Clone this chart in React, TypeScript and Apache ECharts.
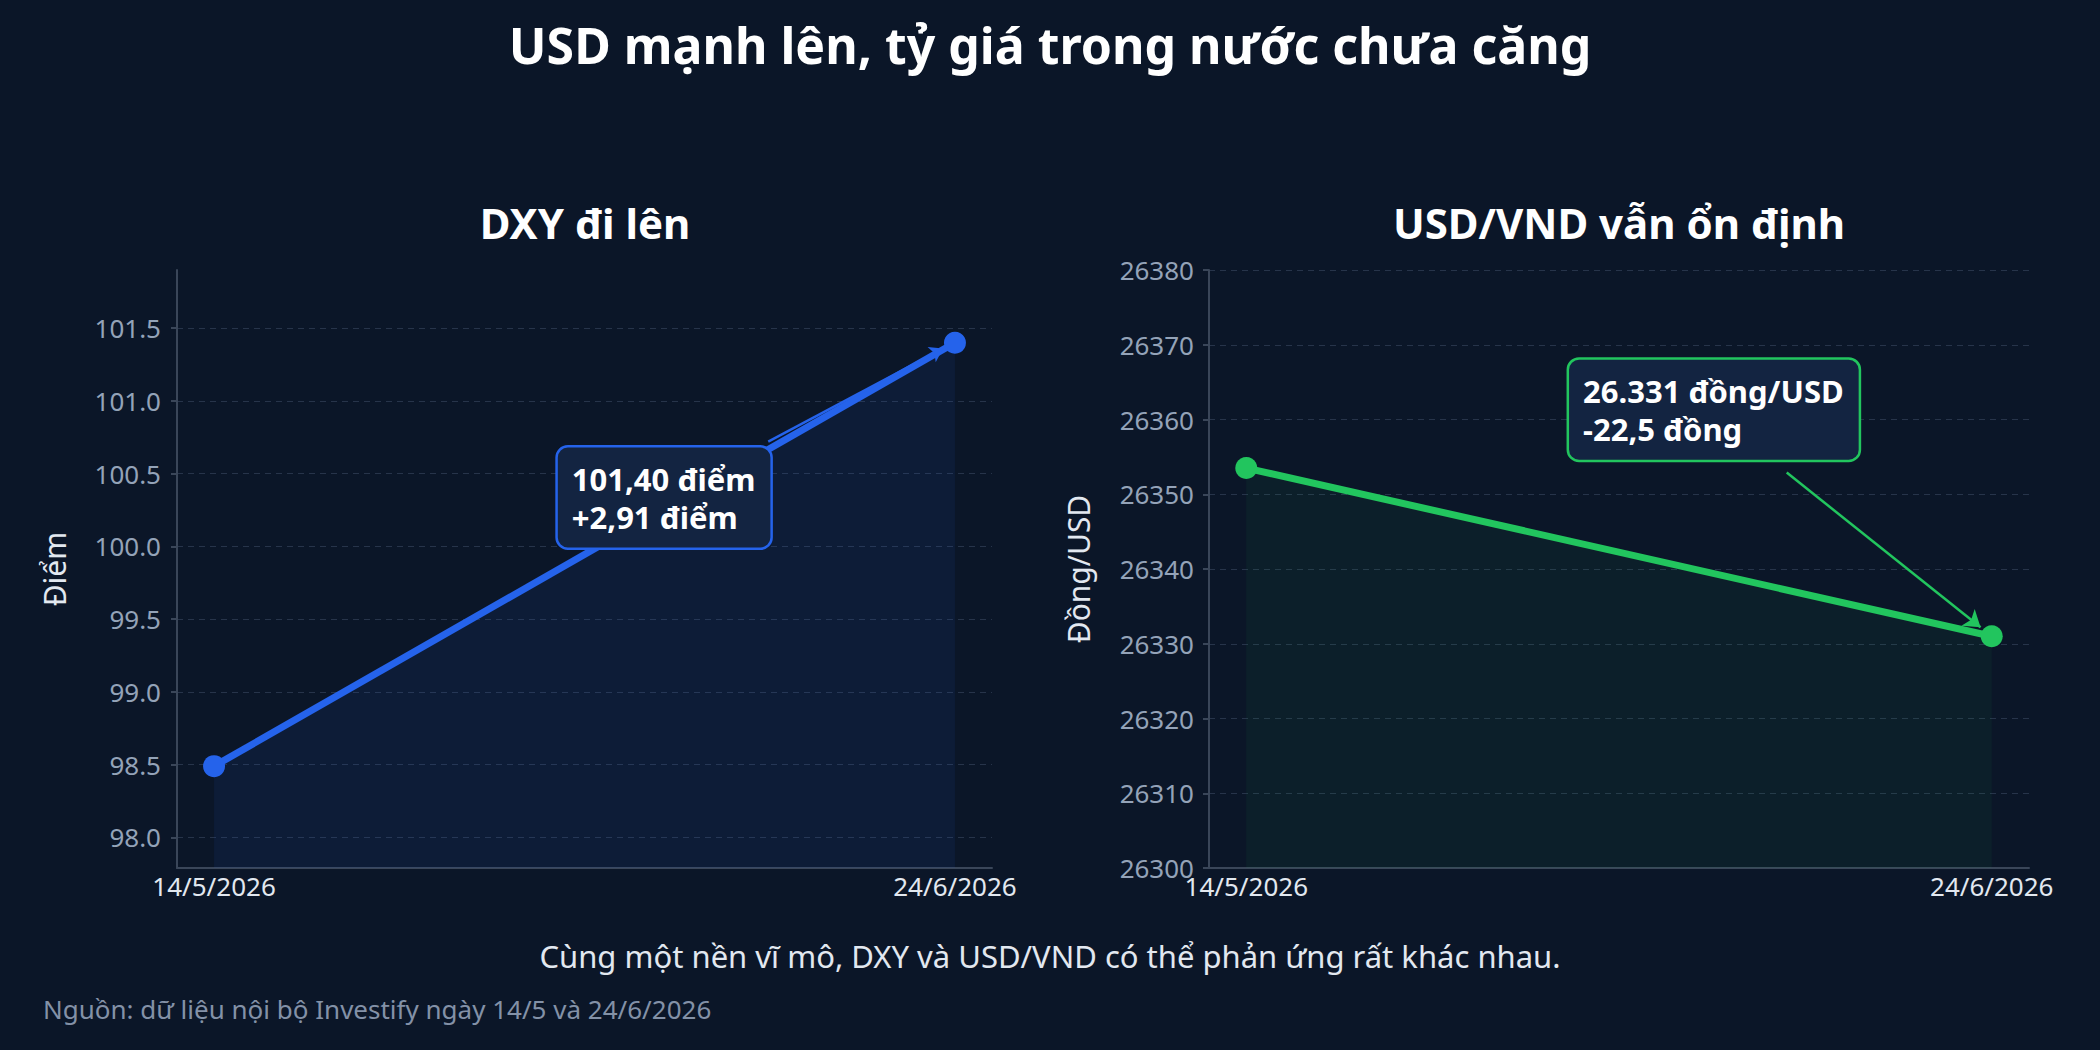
import { useEffect, useRef } from 'react';
import * as echarts from 'echarts';

// dates shown under each point
const dates = ['14/5/2026', '24/6/2026'];
const dxyValues = [98.49, 101.4];
const usdVndValues = [26353.5, 26331];
const dxyTicks = [98.0, 98.5, 99.0, 99.5, 100.0, 100.5, 101.0, 101.5];

const dxyNote = ['101,40 điểm', '+2,91 điểm'];
const usdNote = ['26.331 đồng/USD', '-22,5 đồng'];

const FONT = '"Noto Sans", sans-serif';
const BG = '#0b1628';
const BLUE = '#2563eb';
const GREEN = '#22c55e';
const AXIS = '#3a4659';
const GRID = '#27344a';

function xAxisFor(gridIndex: number): echarts.EChartsOption['xAxis'] {
  return {
    type: 'value',
    gridIndex,
    min: -0.05,
    max: 1.05,
    axisLine: { show: true, onZero: false, lineStyle: { color: AXIS, width: 2 } },
    axisTick: { show: false },
    splitLine: { show: false },
    axisLabel: {
      customValues: [0, 1],
      formatter: (v: number) => dates[Math.round(v)] ?? '',
      color: '#e2e8f0',
      fontSize: 26,
      fontFamily: FONT,
      margin: 5,
    },
  };
}

export default function App() {
  const chartRef = useRef<HTMLDivElement>(null);

  useEffect(() => {
    document.body.style.margin = '0';
    document.body.style.background = BG;
    if (!chartRef.current) return;
    const chart = echarts.init(chartRef.current, null, { renderer: 'svg' });

    const titleText = (text: string, x: number, y: number, size: number, weight: string, color: string, align = 'center') => ({
      type: 'text',
      x,
      y,
      silent: true,
      style: {
        text,
        fill: color,
        fontSize: size,
        fontWeight: weight,
        fontFamily: FONT,
        align,
        verticalAlign: 'middle',
      },
    });

    const noteLabel = (lines: string[], border: string) => ({
      show: true,
      position: [0, 0],
      align: 'left',
      verticalAlign: 'top',
      formatter: lines.join('\n'),
      color: '#ffffff',
      fontSize: 31,
      fontWeight: 'bold',
      fontFamily: FONT,
      lineHeight: 38,
      backgroundColor: '#132441',
      borderColor: border,
      borderWidth: 2.5,
      borderRadius: 10,
      padding: [12, 15, 12, 14],
    });

    const yName = { color: '#e2e8f0', fontSize: 30, fontFamily: FONT };
    const yLabel = { color: '#94a3b8', fontSize: 26, fontFamily: FONT };

    const option: echarts.EChartsOption = {
      animation: false,
      backgroundColor: BG,
      grid: [
        { left: 177, top: 270, width: 815, height: 598, containLabel: false },
        { left: 1209, top: 270, width: 820, height: 598, containLabel: false },
      ],
      xAxis: [xAxisFor(0), xAxisFor(1)] as any,
      yAxis: [
        {
          type: 'value',
          gridIndex: 0,
          min: 97.79,
          max: 101.9,
          name: 'Điểm',
          nameLocation: 'middle',
          nameGap: 108,
          nameTextStyle: yName,
          axisLine: { show: true, onZero: false, lineStyle: { color: AXIS, width: 2 } },
          axisTick: { show: true, length: 6, customValues: dxyTicks, lineStyle: { color: AXIS, width: 2 } },
          axisLabel: {
            ...yLabel,
            customValues: dxyTicks,
            formatter: (v: number) => v.toFixed(1),
            margin: 16,
          },
          splitLine: { show: true, lineStyle: { color: GRID, type: [6, 5], width: 1.2 } },
        },
        {
          type: 'value',
          gridIndex: 1,
          min: 26300,
          max: 26380,
          interval: 10,
          name: 'Đồng/USD',
          nameLocation: 'middle',
          nameGap: 116,
          nameTextStyle: yName,
          axisLine: { show: true, onZero: false, lineStyle: { color: AXIS, width: 2 } },
          axisTick: { show: true, length: 6, lineStyle: { color: AXIS, width: 2 } },
          axisLabel: {
            ...yLabel,
            formatter: (v: number) => String(v),
            margin: 15,
          },
          splitLine: { show: true, lineStyle: { color: GRID, type: [6, 5], width: 1.2 } },
        },
      ],
      series: [
        {
          type: 'line',
          xAxisIndex: 0,
          yAxisIndex: 0,
          data: dxyValues.map((v, i) => [i, v]),
          symbol: 'circle',
          symbolSize: 22,
          lineStyle: { color: BLUE, width: 7 },
          itemStyle: { color: BLUE },
          areaStyle: { color: 'rgba(37, 99, 235, 0.12)' },
          markLine: {
            silent: true,
            symbol: ['none', 'arrow'],
            symbolSize: 13,
            label: { show: false },
            lineStyle: { color: BLUE, width: 2.5, type: 'solid' },
            data: [[{ coord: [0.748, 100.72] }, { coord: [0.984, 101.36] }]] as any,
          },
          markPoint: {
            silent: true,
            symbol: 'circle',
            symbolSize: 0,
            data: [{ coord: [0.464, 100.68], label: noteLabel(dxyNote, BLUE) }] as any,
          },
        },
        {
          type: 'line',
          xAxisIndex: 1,
          yAxisIndex: 1,
          data: usdVndValues.map((v, i) => [i, v]),
          symbol: 'circle',
          symbolSize: 22,
          lineStyle: { color: GREEN, width: 7 },
          itemStyle: { color: GREEN },
          areaStyle: { color: 'rgba(34, 197, 94, 0.08)' },
          markLine: {
            silent: true,
            symbol: ['none', 'arrow'],
            symbolSize: 16,
            label: { show: false },
            lineStyle: { color: GREEN, width: 2.5, type: 'solid' },
            data: [[{ coord: [0.725, 26352.9] }, { coord: [0.985, 26332.2] }]] as any,
          },
          markPoint: {
            silent: true,
            symbol: 'circle',
            symbolSize: 0,
            data: [{ coord: [0.433, 26368], label: noteLabel(usdNote, GREEN) }] as any,
          },
        },
      ],
      graphic: [
        titleText('USD mạnh lên, tỷ giá trong nước chưa căng', 1050, 45, 50, 'bold', '#ffffff'),
        titleText('DXY đi lên', 585, 222, 42, 'bold', '#ffffff'),
        titleText('USD/VND vẫn ổn định', 1619, 222, 42, 'bold', '#ffffff'),
        titleText('Cùng một nền vĩ mô, DXY và USD/VND có thể phản ứng rất khác nhau.', 1050, 956, 31, 'normal', '#e2e8f0'),
        titleText('Nguồn: dữ liệu nội bộ Investify ngày 14/5 và 24/6/2026', 43, 1009, 26, 'normal', '#8391a7', 'left'),
      ] as any,
    };

    chart.setOption(option);
    return () => {
      chart.dispose();
    };
  }, []);

  return <div ref={chartRef} style={{ width: 2100, height: 1050, overflow: 'hidden' }} />;
}
